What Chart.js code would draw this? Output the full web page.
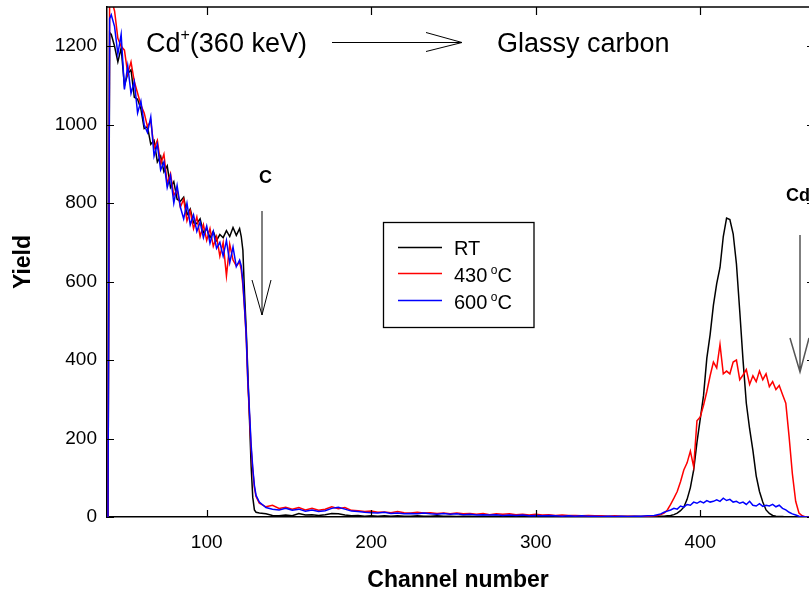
<!DOCTYPE html>
<html><head><meta charset="utf-8">
<script src="https://cdn.jsdelivr.net/npm/chart.js@4.4.1/dist/chart.umd.min.js"></script>
<style>html,body{margin:0;padding:0;background:#fff;}#wrap{width:809px;height:592px;}</style>
</head><body><div id="wrap"><canvas id="c" width="809" height="592"></canvas></div>
<script>
const channels = [40,41,
42,44,46,48,50,52,54,56,58,60,62,64,66,68,70,72,74,76,78,80,82,84,86,88,90,92,94,96,98,100,102,104,106,108,110,112,114,116,118,120,
121,122,123,124,125,126,127,128,129,130,
132,136,140,144,148,152,156,160,164,168,172,176,180,184,188,192,196,200,204,208,212,216,220,224,228,232,236,240,244,248,252,256,260,264,268,272,276,280,284,288,292,296,300,304,308,312,316,320,324,328,332,336,340,344,348,352,356,360,364,368,372,
374,376,378,380,382,384,386,388,390,392,394,396,398,400,402,404,406,408,410,412,414,416,418,420,422,424,426,428,430,432,434,436,438,440,442,444,446,448,450,452,454,456,458,460,462,464,466];

const yieldRT = [0,1235,
1230,1200,1160,1195,1100,1130,1140,1070,1065,1040,990,995,950,960,905,920,880,895,840,855,810,805,815,770,785,750,748,760,725,735,712,728,705,720,712,730,715,738,718,735,
715,680,570,480,370,250,130,50,18,12,
10,8,4,3,5,3,9,5,6,4,6,9,8,5,3,4,2,3,2,3,2,3,2,2,3,2,2,3,2,2,1,2,2,1,2,1,2,1,2,1,1,2,1,1,2,1,1,1,1,1,1,1,1,1,1,1,1,1,1,1,2,
2,2,2,3,4,6,10,16,25,45,75,120,190,250,310,405,465,540,595,636,715,762,758,722,645,525,400,290,225,170,105,65,38,18,9,4,2,1,1,0,0,0,0,0,0,0,0];

const yield430 = [0,1330,
1320,1290,1220,1200,1190,1130,1160,1110,1080,1050,1030,995,1010,940,960,900,925,850,875,820,835,790,810,755,780,735,765,715,745,705,735,690,715,665,700,615,695,655,640,650,
630,590,530,460,340,260,175,120,75,52,
35,26,30,22,25,20,24,18,22,17,20,26,21,24,17,16,14,15,12,13,11,14,11,10,12,10,11,9,10,8,10,8,9,7,9,6,8,7,8,6,7,5,7,5,6,4,5,4,4,3,4,3,3,2,3,2,2,2,1,2,3,
4,6,10,18,32,48,65,90,120,138,168,128,245,255,285,320,360,395,380,440,365,372,365,395,400,350,362,376,338,360,345,372,350,365,332,345,325,335,312,290,205,110,40,10,3,0,0];

const yield600 = [0,1270,
1280,1250,1180,1230,1090,1150,1080,1110,1030,1060,1000,980,1020,920,950,885,905,840,870,800,845,790,760,800,745,770,728,752,712,742,698,728,685,700,665,705,648,688,638,655,
640,600,535,465,350,270,185,125,80,55,
38,24,20,18,22,17,20,15,18,14,16,22,25,20,15,14,12,11,10,12,9,10,8,9,8,10,8,7,9,7,8,6,7,5,6,5,6,4,5,4,5,3,4,3,4,3,2,3,2,3,2,2,1,2,1,2,1,2,2,3,4,
6,8,12,15,18,22,20,28,25,32,30,38,35,40,36,42,38,40,44,40,48,42,45,38,40,35,38,32,40,30,28,34,27,30,28,32,26,30,22,18,12,8,5,2,1,0,0];

const seriesNames = ['RT', '430', '600'];
const seriesColors = ['#000000', '#ff0000', '#0000ff'];
const xTicks = [100, 200, 300, 400];
const yTicks = [0, 200, 400, 600, 800, 1000, 1200];

const FONT = '"Liberation Sans", Arial, sans-serif';
Chart.defaults.font.family = FONT;
Chart.defaults.color = '#000';

function pts(vals) { return channels.map((c, i) => ({x: c, y: vals[i]})); }

const overlay = {
  id: 'overlay',
  afterDraw(chart) {
    const {ctx, chartArea: a, scales: {x, y}} = chart;
    ctx.save();
    ctx.strokeStyle = '#000';
    ctx.lineWidth = 1.5;
    ctx.beginPath(); ctx.moveTo(a.left, a.top); ctx.lineTo(a.right, a.top); ctx.stroke();
    ctx.lineWidth = 1.2;
    ctx.beginPath();
    xTicks.forEach(v => {
      const px = Math.round(x.getPixelForValue(v)) + 0.5;
      ctx.moveTo(px, a.bottom); ctx.lineTo(px, a.bottom - 7);
      ctx.moveTo(px, a.top); ctx.lineTo(px, a.top + 8);
    });
    yTicks.forEach(v => {
      const py = Math.round(y.getPixelForValue(v)) + 0.5;
      ctx.moveTo(a.left, py); ctx.lineTo(a.left + 7, py);
      ctx.moveTo(a.right - 2, py); ctx.lineTo(a.right, py);
    });
    ctx.stroke();

    // Title annotation
    ctx.fillStyle = '#000';
    ctx.textBaseline = 'alphabetic';
    ctx.textAlign = 'left';
    ctx.font = '27px ' + FONT;
    let tx = 146;
    ctx.fillText('Cd', tx, 52); tx += ctx.measureText('Cd').width;
    ctx.font = '16px ' + FONT;
    ctx.fillText('+', tx, 40); tx += ctx.measureText('+').width;
    ctx.font = '27px ' + FONT;
    ctx.fillText('(360 keV)', tx, 52);
    ctx.fillText('Glassy carbon', 497, 52);
    ctx.lineWidth = 1;
    ctx.beginPath();
    ctx.moveTo(332, 42.5); ctx.lineTo(462, 42.5);
    ctx.moveTo(426, 32.5); ctx.lineTo(462, 42.5); ctx.lineTo(426, 51.5);
    ctx.stroke();

    // C marker
    ctx.font = 'bold 18px ' + FONT;
    ctx.fillText('C', 259, 183);
    ctx.beginPath();
    ctx.moveTo(262, 211); ctx.lineTo(262, 315);
    ctx.moveTo(252, 280); ctx.lineTo(262, 315); ctx.lineTo(271, 280);
    ctx.stroke();

    // Cd marker
    ctx.fillText('Cd', 786, 201);
    ctx.strokeStyle = '#555';
    ctx.lineWidth = 1.5;
    ctx.beginPath();
    ctx.moveTo(800, 235); ctx.lineTo(800, 372);
    ctx.moveTo(790, 338); ctx.lineTo(800, 372); ctx.lineTo(809, 338);
    ctx.stroke();

    // Legend
    ctx.strokeStyle = '#000';
    ctx.lineWidth = 1.3;
    ctx.strokeRect(383.5, 222.5, 150.5, 105);
    const rows = [247, 273, 300];
    const bases = [255, 282, 309];
    chart.data.datasets.forEach((ds, i) => {
      ctx.strokeStyle = ds.borderColor;
      ctx.lineWidth = 1.3;
      ctx.beginPath(); ctx.moveTo(398, rows[i] + 0.5); ctx.lineTo(442, rows[i] + 0.5); ctx.stroke();
      ctx.fillStyle = '#000';
      ctx.font = '20px ' + FONT;
      let lx = 454;
      ctx.fillText(seriesNames[i], lx, bases[i]);
      if (i > 0) {
        lx += ctx.measureText(seriesNames[i]).width + 3.5;
        ctx.font = '12px ' + FONT;
        ctx.fillText('o', lx, bases[i] - 8);
        lx += ctx.measureText('o').width;
        ctx.font = '20px ' + FONT;
        ctx.fillText('C', lx, bases[i]);
      }
    });
    ctx.restore();
  }
};

new Chart(document.getElementById('c'), {
  type: 'line',
  data: {
    datasets: [
      {label: 'RT', data: pts(yieldRT), borderColor: seriesColors[0], order: 2},
      {label: '430 °C', data: pts(yield430), borderColor: seriesColors[1], order: 1},
      {label: '600 °C', data: pts(yield600), borderColor: seriesColors[2], order: 0}
    ].map(d => Object.assign(d, {borderWidth: 1.5, pointRadius: 0, tension: 0, fill: false}))
  },
  options: {
    responsive: false,
    animation: false,
    devicePixelRatio: 1,
    layout: {padding: {top: 7, right: 0, left: 0, bottom: 0}},
    plugins: {legend: {display: false}, tooltip: {enabled: false}},
    scales: {
      x: {
        type: 'linear', min: 39.4, max: 466.1,
        afterBuildTicks: s => { s.ticks = xTicks.map(v => ({value: v})); },
        afterFit: s => { s.height = 75; s.paddingLeft = 0; s.paddingRight = 0; },
        ticks: {font: {size: 19}, color: '#000', padding: 14, maxRotation: 0, autoSkip: false, callback: v => String(v)},
        grid: {drawOnChartArea: false, drawTicks: false},
        border: {color: '#000', width: 1.5},
        title: {display: true, text: 'Channel number', color: '#000', font: {size: 23, weight: 'bold'}, padding: {top: 0, bottom: -2}}
      },
      y: {
        type: 'linear', min: 0, max: 1300,
        afterBuildTicks: s => { s.ticks = yTicks.map(v => ({value: v})); },
        afterFit: s => { s.width = 107; s.paddingTop = 0; s.paddingBottom = 0; },
        ticks: {font: {size: 19}, color: '#000', padding: 10, autoSkip: false, callback: v => String(v)},
        grid: {drawOnChartArea: false, drawTicks: false},
        border: {color: '#000', width: 1.5},
        title: {display: true, text: 'Yield', color: '#000', font: {size: 23, weight: 'bold'}, padding: {top: 10, bottom: 0}}
      }
    }
  },
  plugins: [overlay]
});
</script>
</body></html>
